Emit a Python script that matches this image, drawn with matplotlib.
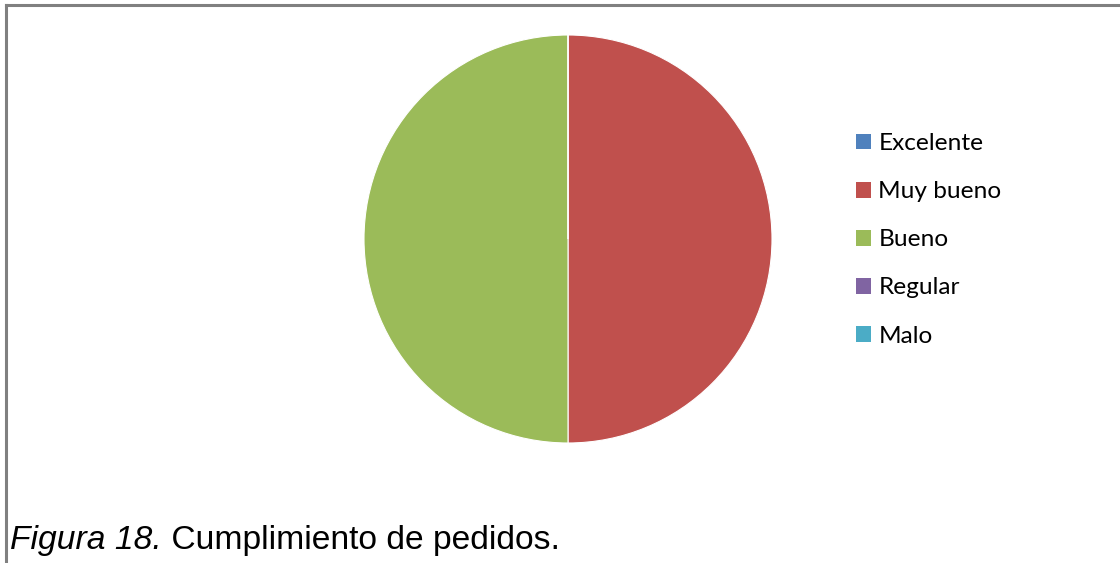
import matplotlib.pyplot as plt
from matplotlib.lines import Line2D
from matplotlib.patches import Patch

categorias = ['Excelente', 'Muy bueno', 'Bueno', 'Regular', 'Malo']
valores = [0, 1, 1, 0, 0]
colores = ['#4F81BD', '#C0504D', '#9BBB59', '#8064A2', '#4BACC6']

fig = plt.figure(figsize=(11.2, 5.63), dpi=100)

# marco gris (arriba e izquierda)
fig.add_artist(Line2D([0.005, 1.0], [0.9915, 0.9915], color='#808080', lw=2.2))
fig.add_artist(Line2D([0.005, 0.005], [0.0, 0.9915], color='#808080', lw=2.2))

# pie
ax = fig.add_axes([568/1120 - 204/1120, 1 - 443/563, 408/1120, 408/563])
ax.pie(valores, colors=colores, startangle=90, counterclock=False,
       wedgeprops={'edgecolor': 'white', 'linewidth': 0.8})
ax.set_xlim(-1, 1)
ax.set_ylim(-1, 1)
ax.set_aspect('equal')

handles = [Patch(facecolor=c, edgecolor='none') for c in colores]
fig.legend(handles, categorias, loc='upper left', bbox_to_anchor=(0.7555, 0.781),
           frameon=False, prop={'family': 'Lato', 'size': 17.6},
           handlelength=0.62, handleheight=0.62, handletextpad=0.3,
           labelspacing=1.11, borderaxespad=0)

# pie de figura
t1 = fig.text(10/1120, 1 - 541/563, 'Figura 18.', fontsize=24.2, style='italic',
              family='Liberation Sans', va='center', ha='left')
fig.canvas.draw()
bb = t1.get_window_extent(fig.canvas.get_renderer())
fig.text(bb.x1 / 1120, 1 - 541/563, ' Cumplimiento de pedidos.', fontsize=24.2,
         family='Liberation Sans', va='center', ha='left')

fig.savefig('out.png', dpi=100)
